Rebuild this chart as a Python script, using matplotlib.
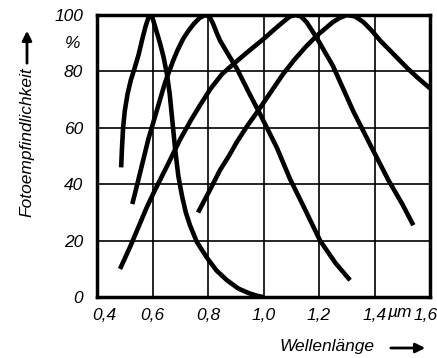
import matplotlib.pyplot as plt
from matplotlib.transforms import ScaledTranslation

# Kurven (Wellenlänge in µm, Empfindlichkeit in %)
x1 = [0.487, 0.490, 0.494, 0.500, 0.510, 0.522, 0.535, 0.550, 0.562, 0.575, 0.585, 0.592, 0.600, 0.612,
      0.627, 0.640, 0.652, 0.662, 0.672, 0.682, 0.693, 0.706, 0.720, 0.735, 0.760, 0.796, 0.830, 0.868,
      0.910, 0.950, 0.980, 1.0]
y1 = [46, 53, 60, 66, 72, 77, 81, 86, 91, 96, 99, 100, 99, 95,
      90, 85, 79, 72, 62, 52, 43, 36, 30, 25.5, 19.5, 14, 9.5, 6,
      3, 1.3, 0.4, 0]

x2 = [0.527, 0.540, 0.555, 0.570, 0.585, 0.600, 0.615, 0.630, 0.645, 0.660, 0.675, 0.690, 0.710, 0.730,
      0.750, 0.770, 0.790, 0.805, 0.818, 0.830, 0.843, 0.870, 0.904, 0.950, 0.987, 1.048, 1.095, 1.150,
      1.204, 1.260, 1.312]
y2 = [33, 38, 44, 50, 56, 61, 66, 71, 76, 80, 84, 87.5, 91.5, 94.5,
      97, 99, 100, 99.5, 97, 94, 91, 86.5, 81, 72, 65, 53, 42, 31,
      20, 12, 6]

x3 = [0.483, 0.520, 0.550, 0.580, 0.609, 0.650, 0.700, 0.740, 0.771, 0.810, 0.850, 0.890, 0.950, 1.000,
      1.040, 1.070, 1.095, 1.115, 1.135, 1.155, 1.175, 1.200, 1.250, 1.323, 1.395, 1.450, 1.500, 1.540]
y3 = [10, 18, 25, 32, 38, 46, 56, 63, 68, 74, 79, 82.5, 87.5, 91.5,
      95, 97.5, 99.5, 100, 99.5, 97.5, 94.5, 90.5, 82, 66, 52, 41.5, 33, 25.5]

x4 = [0.764, 0.807, 0.843, 0.875, 0.904, 0.940, 0.980, 1.025, 1.070, 1.110, 1.150, 1.190, 1.220, 1.250,
      1.275, 1.300, 1.330, 1.360, 1.390, 1.420, 1.455, 1.490, 1.520, 1.553, 1.600]
y4 = [30, 38, 45, 50, 55, 60.5, 66, 72.5, 79, 84, 88.5, 92.5, 95, 97.5,
      99, 100, 99.5, 97.5, 94.5, 91, 87.5, 84, 81, 78, 74]

xticks = [0.4, 0.6, 0.8, 1.0, 1.2, 1.4, 1.6]
xlabels = ["0,4", "0,6", "0,8", "1,0", "1,2", "1,4", "1,6"]
yticks = [0, 20, 40, 60, 80, 100]

plt.rcParams['font.family'] = ['Liberation Sans', 'DejaVu Sans']
plt.rcParams['font.style'] = 'italic'

fig = plt.figure(figsize=(4.37, 3.58), dpi=100)
ax = fig.add_axes([0.222, 0.170, 0.762, 0.788])

for xs, ys in [(x1, y1), (x2, y2), (x3, y3), (x4, y4)]:
    ax.plot(xs, ys, color='black', lw=3.3, solid_capstyle='butt', solid_joinstyle='round', zorder=3)

ax.set_xlim(0.4, 1.6)
ax.set_ylim(0, 100)
ax.set_xticks(xticks)
ax.set_xticklabels(xlabels)
ax.set_yticks(yticks)
ax.tick_params(length=0, labelsize=12.5, pad=10)
ax.tick_params(axis='x', pad=8)
ax.grid(True, color='black', lw=1.2)
for s in ax.spines.values():
    s.set_linewidth(2.5)

# erste und letzte Beschriftung etwas verschieben wie im Original
labs = ax.get_xticklabels()
labs[0].set_transform(labs[0].get_transform() + ScaledTranslation(5 / 72, 0, fig.dpi_scale_trans))
labs[-1].set_transform(labs[-1].get_transform() + ScaledTranslation(-3 / 72, 0, fig.dpi_scale_trans))

ax.annotate("%", xy=(0, 90), xycoords=('axes fraction', 'data'), xytext=(-12, 0),
            textcoords='offset points', ha='right', va='center', fontsize=12.5)
ax.annotate("µm", xy=(1.4, 0), xycoords=('data', 'axes fraction'), xytext=(9, -6),
            textcoords='offset points', ha='left', va='top', fontsize=12.5)

fig.text(27 / 437, 1 - 142 / 358, "Fotoempfindlichkeit", rotation=90, ha='center', va='center', fontsize=12.5)
fig.text(327 / 437, 1 - 346 / 358, "Wellenlänge", ha='center', va='center', fontsize=12.5)
ax.annotate('', xy=(27, 358 - 28), xytext=(27, 358 - 66), xycoords='figure pixels',
            arrowprops=dict(arrowstyle='-|>', lw=2, color='black', mutation_scale=14))
ax.annotate('', xy=(428, 10), xytext=(388, 10), xycoords='figure pixels',
            arrowprops=dict(arrowstyle='-|>', lw=2, color='black', mutation_scale=14))

fig.savefig("out.png", dpi=100)
